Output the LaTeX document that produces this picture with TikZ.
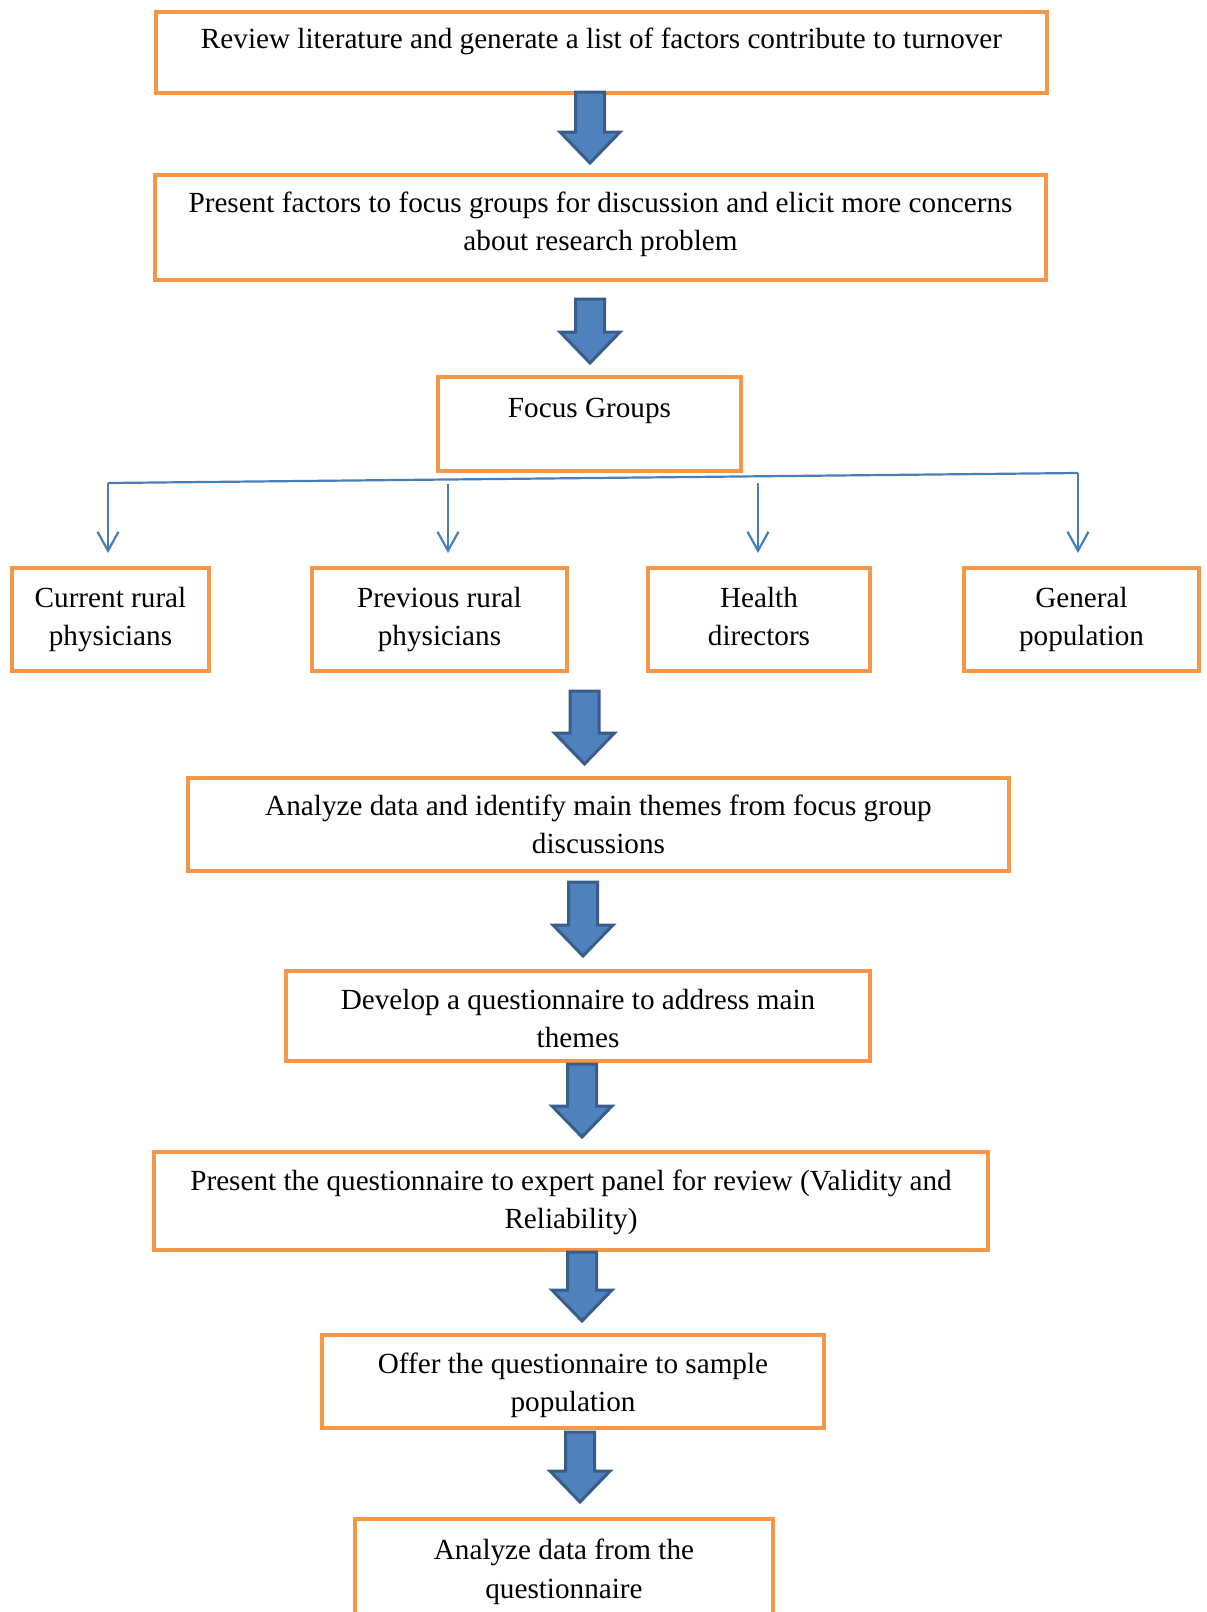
\documentclass[tikz,border=0pt]{standalone}
\usepackage{fontspec}
\setmainfont{Liberation Serif}
\usetikzlibrary{arrows.meta,calc}
\definecolor{boxorange}{HTML}{F79646}
\definecolor{arrowfill}{HTML}{4F81BD}
\definecolor{arrowedge}{HTML}{385D8A}
\definecolor{linkblue}{HTML}{4A7EBB}
\tikzset{
  box/.style={draw=boxorange, line width=2pt, align=center, inner sep=0pt,
    font=\fontsize{14.6}{19.2}\selectfont},
  oneline/.style={box, text height=12pt},
  twoline/.style={box, text depth=4pt},
  blockarrow/.style={draw=arrowedge, fill=arrowfill, line width=1.5pt,
    to path={($(\tikztostart)+(-14.5,0)$) -- ($(\tikztostart)+(14.5,0)$)
      -- ($(\tikztotarget)+(14.5,-31)$) -- ($(\tikztotarget)+(30,-31)$)
      -- (\tikztotarget) -- ($(\tikztotarget)+(-30,-31)$)
      -- ($(\tikztotarget)+(-14.5,-31)$) -- cycle}},
  bus/.style={draw=linkblue, line width=1.1pt},
  flow/.style={bus, shorten >=6.5pt, -{Straight Barb[length=9.5pt,width=10.5pt]}},
}
\begin{document}
\begin{tikzpicture}[x=0.5pt,y=-0.5pt]
  \clip (0,0) rectangle (1206,1612);
  % main steps
  \node[oneline, minimum width=445.5pt, minimum height=40.5pt, text depth=16.2pt] (lit) at (601.5,52.5)
    {Review literature and generate a list of factors contribute to turnover};
  \node[twoline, minimum width=445.5pt, minimum height=52.5pt, text height=27.2pt] (present) at (600.5,227.5)
    {Present factors to focus groups for discussion and elicit more concerns\\about research problem};
  \node[oneline, minimum width=151.5pt, minimum height=47pt, text depth=18.7pt] (focus) at (589.5,424)
    {Focus Groups};
  % focus groups
  \node[twoline, minimum width=98.5pt, minimum height=51.5pt, text height=30.2pt] (cur) at (110.5,619.5)
    {Current rural\\physicians};
  \node[twoline, minimum width=127.5pt, minimum height=51.5pt, text height=30.2pt] (prev) at (439.5,619.5)
    {Previous rural\\physicians};
  \node[twoline, minimum width=111pt, minimum height=51.5pt, text height=30.2pt] (health) at (759,619.5)
    {Health\\directors};
  \node[twoline, minimum width=117.5pt, minimum height=51.5pt, text height=30.2pt] (gen) at (1081.5,619.5)
    {General\\population};
  % analysis and questionnaire
  \node[twoline, minimum width=410.5pt, minimum height=46.5pt, text height=32.9pt] (themes) at (598.5,824.5)
    {Analyze data and identify main themes from focus group\\discussions};
  \node[twoline, minimum width=292pt, minimum height=45pt, text height=35.7pt] (develop) at (578,1016)
    {Develop a questionnaire to address main\\themes};
  \node[twoline, minimum width=417pt, minimum height=49pt, text height=31.4pt] (expert) at (571,1201)
    {Present the questionnaire to expert panel for review (Validity and\\Reliability)};
  \node[twoline, minimum width=251pt, minimum height=46.5pt, text height=34.2pt] (offer) at (573,1381.5)
    {Offer the questionnaire to sample\\population};
  \node[twoline, minimum width=209pt, minimum height=49pt, text height=34.2pt] (final) at (564,1568)
    {Analyze data from the\\questionnaire};

  % block arrows
  \draw[blockarrow] (590,92) to (590,163);
  \draw[blockarrow] (590,299) to (590,363);
  \draw[blockarrow] (584.5,691) to (584.5,764);
  \draw[blockarrow] (583,882) to (583,956);
  \draw[blockarrow] (582,1064) to (582,1137);
  \draw[blockarrow] (582,1252) to (582,1321);
  \draw[blockarrow] (580,1432) to (580,1502);

  % branches to the groups
  \coordinate (busL) at (108,483);
  \coordinate (busR) at (1078,473);
  \coordinate (b2) at (448,484);
  \coordinate (b3) at (758,483);
  \draw[bus] (busL) -- (busR);
  \draw[flow] (busL) -- (busL |- cur.north);
  \draw[flow] (b2) -- (b2 |- prev.north);
  \draw[flow] (b3) -- (b3 |- health.north);
  \draw[flow] (busR) -- (busR |- gen.north);
\end{tikzpicture}
\end{document}
